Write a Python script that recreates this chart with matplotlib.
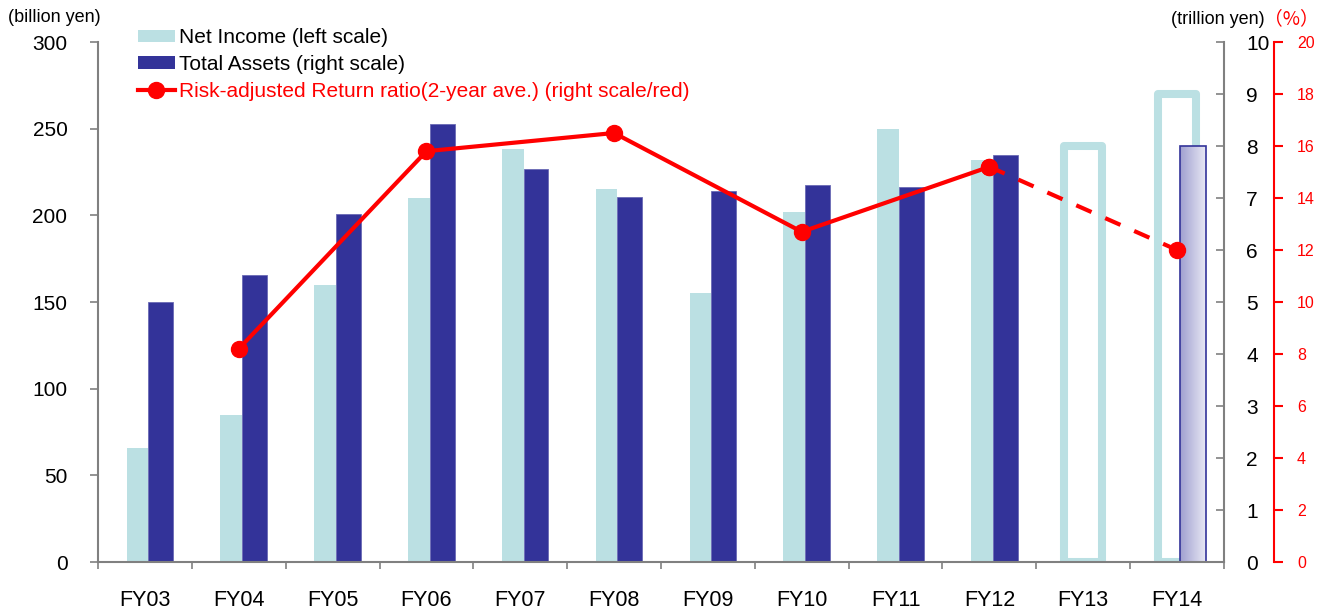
import matplotlib
matplotlib.use('Agg')
import matplotlib.pyplot as plt
import numpy as np
from matplotlib.patches import Patch
from matplotlib.lines import Line2D
from matplotlib.colors import LinearSegmentedColormap

plt.rcParams['font.family'] = ['Liberation Sans', 'DejaVu Sans']

# data
years = ['FY03', 'FY04', 'FY05', 'FY06', 'FY07', 'FY08',
         'FY09', 'FY10', 'FY11', 'FY12', 'FY13', 'FY14']
net_income = [66, 85, 160, 210, 238, 215, 155, 202, 250, 232, 240, 270]   # billion yen
ni_forecast = [False] * 10 + [True, True]
total_assets = [5.0, 5.52, 6.7, 8.42, 7.56, 7.01, 7.13, 7.25, 7.22, 7.82, np.nan, 8.0]  # trillion yen
ta_forecast = [False] * 11 + [True]
ratio_years = ['FY04', 'FY06', 'FY08', 'FY10', 'FY12', 'FY14']
ratio = [8.2, 15.8, 16.5, 12.7, 15.2, 12.0]   # %

light = '#bbe0e3'
dark = '#333399'
red = '#ff0000'
gray = '#808080'

W, H = 1325, 613
fig = plt.figure(figsize=(W / 100, H / 100), dpi=100)
ax = fig.add_axes([98 / W, 51 / H, 1126 / W, 520 / H])
ax2 = ax.twinx()
ax3 = ax.twinx()

x = np.arange(len(years))
ni = np.array(net_income, dtype=float)
ta = np.array(total_assets, dtype=float)
nif = np.array(ni_forecast)
taf = np.array(ta_forecast)

# net income (left scale)
ax.bar(x[~nif] - 0.195, ni[~nif], width=0.23, align='edge', color=light, linewidth=0)
ax.bar(x[nif], ni[nif], width=0.4, fill=False, edgecolor=light, linewidth=5.8,
       joinstyle='round')

# total assets (right scale)
ax2.bar(x[~taf] + 0.035, ta[~taf], width=0.265, align='edge', color=dark,
        edgecolor='#6a6ab5', linewidth=0.6)
grad = LinearSegmentedColormap.from_list('g', ['#a0a0d0', '#e8e8f4'])
for xi, v in zip(x[taf], ta[taf]):
    ax2.imshow(np.linspace(0, 1, 64).reshape(1, -1), cmap=grad, aspect='auto',
               extent=[xi + 0.03, xi + 0.305, 0, v], zorder=2)
    ax2.bar(xi + 0.03, v, width=0.275, align='edge', fill=False, edgecolor=dark,
            linewidth=1.2, zorder=3)

# risk-adjusted return ratio (red scale)
rx = np.array([years.index(y) for y in ratio_years])
ax3.plot(rx[:-1], ratio[:-1], color=red, lw=3, marker='o', ms=11.5, zorder=5)
ax3.plot(rx[-2:], ratio[-2:], color=red, lw=3, ls=(0, (4, 3.6)), marker='o', ms=11.5,
         zorder=5)

# limits
ax.set_xlim(-0.5, 11.5)
ax.set_ylim(0, 300)
ax2.set_ylim(0, 10)
ax3.set_ylim(0, 20)
ax2.set_xlim(-0.5, 11.5)

# spines
for s in ['top', 'right', 'bottom']:
    ax.spines[s].set_visible(False)
ax.spines['left'].set_color(gray)
ax.spines['left'].set_linewidth(1.5)
for s in ['top', 'left', 'bottom']:
    ax2.spines[s].set_visible(False)
ax2.spines['right'].set_color(gray)
ax2.spines['right'].set_linewidth(1.5)
for s in ['top', 'left']:
    ax3.spines[s].set_visible(False)
ax3.spines['bottom'].set_color(gray)
ax3.spines['bottom'].set_linewidth(1.5)
ax3.spines['right'].set_position(('outward', 36))
ax3.spines['right'].set_color(red)
ax3.spines['right'].set_linewidth(1.5)

# ticks
ax.set_yticks(range(0, 301, 50))
ax.tick_params(axis='y', direction='out', length=6, width=1.2, color=gray,
               labelsize=15, pad=16)
ax.set_xticks(np.arange(-0.5, 12, 1))
ax.set_xticklabels([])
ax.set_xticks(x, minor=True)
ax.set_xticklabels(years, minor=True)
ax.tick_params(axis='x', which='major', direction='out', length=5, width=1.2, color=gray)
ax.tick_params(axis='x', which='minor', length=0, labelsize=15.5, pad=20)

ax2.set_yticks(range(0, 11))
ax2.tick_params(axis='y', direction='in', length=6, width=1.2, color=gray,
                labelsize=15, pad=16)
ax3.set_yticks(range(0, 21, 2))
ax3.tick_params(axis='y', direction='out', length=6.5, width=1.5, color=red,
                labelcolor=red, labelsize=11.5, pad=10)
ax3.tick_params(axis='x', length=0, labelbottom=False)

# unit labels
fig.text(8 / W, 1 - 18 / H, '(billion yen)', fontsize=13, va='center', ha='left')
fig.text(1171 / W, 1 - 19 / H, '(trillion yen)', fontsize=13, va='center', ha='left')
fig.text(1264 / W, 1 - 19 / H, '（%）', fontsize=13.5, va='center', ha='left', color=red,
         family=['Noto Sans CJK JP', 'DejaVu Sans'])

# legend
handles = [Patch(facecolor=light, edgecolor='none'),
           Patch(facecolor=dark, edgecolor='none'),
           Line2D([], [], color=red, lw=3, marker='o', ms=11.5)]
labels = ['Net Income (left scale)', 'Total Assets (right scale)',
          'Risk-adjusted Return ratio(2-year ave.) (right scale/red)']
leg = ax3.legend(handles, labels, loc='upper left',
                 bbox_to_anchor=(138 / W, 1 - 28 / H), bbox_transform=fig.transFigure,
                 frameon=False, fontsize=15, borderpad=0, borderaxespad=0,
                 handlelength=1.76, handleheight=0.52, handletextpad=0.2,
                 labelspacing=0.38)
leg.get_texts()[2].set_color(red)

fig.savefig('out.png', dpi=100)
